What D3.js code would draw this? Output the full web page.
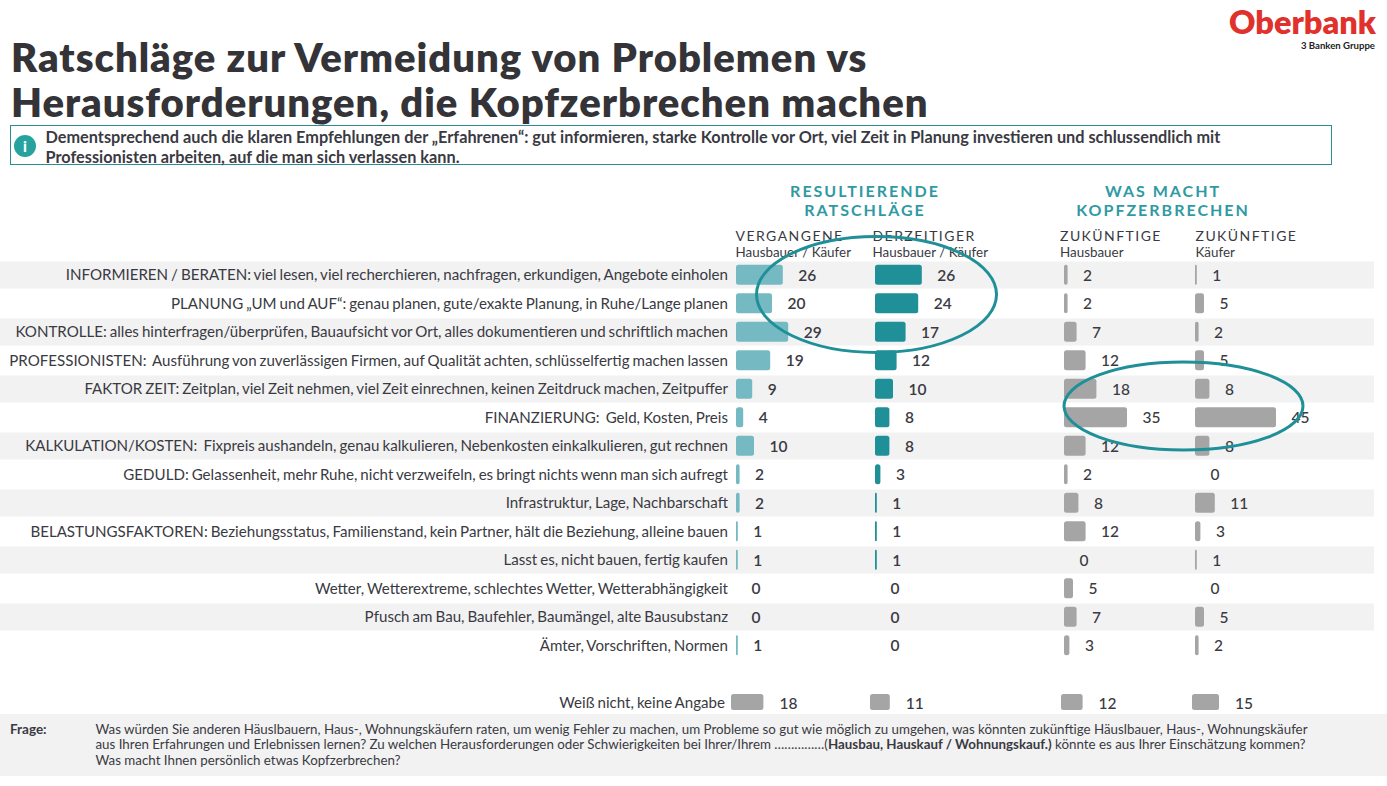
<!DOCTYPE html>
<html><head><meta charset="utf-8">
<script src="https://cdn.jsdelivr.net/npm/d3@7"></script>
<style>html,body{margin:0;padding:0;background:#fff}svg{display:block}text{font-family:Lato,sans-serif;fill:#3a3a42;white-space:pre}</style>
</head><body><svg id="c" width="1387" height="786"></svg>
<script>
const categories=[
"INFORMIEREN / BERATEN: viel lesen, viel recherchieren, nachfragen, erkundigen, Angebote einholen",
"PLANUNG „UM und AUF“: genau planen, gute/exakte Planung, in Ruhe/Lange planen",
"KONTROLLE: alles hinterfragen/überprüfen, Bauaufsicht vor Ort, alles dokumentieren und schriftlich machen",
"PROFESSIONISTEN:  Ausführung von zuverlässigen Firmen, auf Qualität achten, schlüsselfertig machen lassen",
"FAKTOR ZEIT: Zeitplan, viel Zeit nehmen, viel Zeit einrechnen, keinen Zeitdruck machen, Zeitpuffer",
"FINANZIERUNG:  Geld, Kosten, Preis",
"KALKULATION/KOSTEN:  Fixpreis aushandeln, genau kalkulieren, Nebenkosten einkalkulieren, gut rechnen",
"GEDULD: Gelassenheit, mehr Ruhe, nicht verzweifeln, es bringt nichts wenn man sich aufregt",
"Infrastruktur, Lage, Nachbarschaft",
"BELASTUNGSFAKTOREN: Beziehungsstatus, Familienstand, kein Partner, hält die Beziehung, alleine bauen",
"Lasst es, nicht bauen, fertig kaufen",
"Wetter, Wetterextreme, schlechtes Wetter, Wetterabhängigkeit",
"Pfusch am Bau, Baufehler, Baumängel, alte Bausubstanz",
"Ämter, Vorschriften, Normen"];
const vergangene=[26,20,29,19,9,4,10,2,2,1,1,0,0,1];
const derzeitiger=[26,24,17,12,10,8,8,3,1,1,1,0,0,0];
const zukHausbauer=[2,2,7,12,18,35,12,2,8,12,0,5,7,3];
const zukKaeufer=[1,5,2,5,8,45,8,0,11,3,1,0,5,2];
const unknownLabel="Weiß nicht, keine Angabe";
const unknownValues=[18,11,12,15];
const seriesHeads=[["VERGANGENE","Hausbauer / Käufer"],["DERZEITIGER","Hausbauer / Käufer"],["ZUKÜNFTIGE","Hausbauer"],["ZUKÜNFTIGE","Käufer"]];
const title=["Ratschläge zur Vermeidung von Problemen vs","Herausforderungen, die Kopfzerbrechen machen"];
const note=["Dementsprechend auch die klaren Empfehlungen der „Erfahrenen“: gut informieren, starke Kontrolle vor Ort, viel Zeit in Planung investieren und schlussendlich mit","Professionisten arbeiten, auf die man sich verlassen kann."];
const frage=["Was würden Sie anderen Häuslbauern, Haus-, Wohnungskäufern raten, um wenig Fehler zu machen, um Probleme so gut wie möglich zu umgehen, was könnten zukünftige Häuslbauer, Haus-, Wohnungskäufer",
"aus Ihren Erfahrungen und Erlebnissen lernen? Zu welchen Herausforderungen oder Schwierigkeiten bei Ihrer/Ihrem ……………(","Hausbau, Hauskauf / Wohnungskauf.)"," könnte es aus Ihrer Einschätzung kommen?","Was macht Ihnen persönlich etwas Kopfzerbrechen?"];

const svg=d3.select("#c");
const series=[vergangene,derzeitiger,zukHausbauer,zukKaeufer];
const colors=["#75b9c2","#1f9098","#a5a5a5","#a5a5a5"];
const colX=[736,875,1064,1195], unkX=[731,870,1061,1192];
const w=d3.scaleLinear().domain([0,45]).range([0,81]);
const y=d3.scaleBand().domain(d3.range(categories.length)).range([261,660]).paddingInner(0).paddingOuter(0);

// logo
svg.append("text").attr("x",1376).attr("y",33.5).attr("text-anchor","end").attr("font-size",32.5).attr("font-weight",800).style("fill","#e0312c").text("Oberbank");
svg.append("text").attr("x",1375).attr("y",48.5).attr("text-anchor","end").attr("font-size",9.6).attr("font-weight",700).style("fill","#222").text("3 Banken Gruppe");

// title
svg.selectAll(".t").data(title).join("text").attr("x",11).attr("y",(d,i)=>72+i*45).attr("font-size",40).attr("font-weight",800).attr("letter-spacing",0.99).style("fill","#333338").text(d=>d);

// note box
svg.append("rect").attr("x",10.5).attr("y",125.5).attr("width",1321).attr("height",39).attr("fill","#fff").attr("stroke","#2a8c96").attr("stroke-width",1);
svg.append("circle").attr("cx",25).attr("cy",146).attr("r",11).attr("fill","#27a39f");
svg.append("text").attr("x",25).attr("y",151.5).attr("text-anchor","middle").attr("font-size",15).attr("font-weight",900).style("fill","#fff").text("i");
svg.selectAll(".n").data(note).join("text").attr("x",45.5).attr("y",(d,i)=>143+i*20).attr("font-size",16.3).attr("font-weight",700).text(d=>d);

// group headings
const head=(x,l)=>svg.selectAll(null).data(l).join("text").attr("x",x).attr("y",(d,i)=>197+i*19).attr("text-anchor","middle").attr("font-size",16).attr("font-weight",700).attr("letter-spacing",2).style("fill","#2f9aa3").text(d=>d);
head(865,["RESULTIERENDE","RATSCHLÄGE"]);
head(1163,["WAS MACHT","KOPFZERBRECHEN"]);

// column headings
const headX=[735.5,872.5,1060,1195.5];
seriesHeads.forEach((h,i)=>{
 svg.append("text").attr("x",headX[i]).attr("y",241).attr("font-size",14).attr("letter-spacing",1.45).text(h[0]);
 svg.append("text").attr("x",headX[i]).attr("y",257).attr("font-size",13.4).text(h[1]);
});

// stripes
svg.selectAll(".s").data(d3.range(categories.length).filter(i=>i%2==0)).join("rect")
 .attr("x",0).attr("width",1374).attr("y",i=>y(i)+.5).attr("height",y.bandwidth()-1.5).attr("fill","#f2f2f2");

// category labels
svg.selectAll(".c").data(categories).join("text").attr("x",728).attr("y",(d,i)=>y(i)+y.bandwidth()/2+5)
 .attr("text-anchor","end").attr("font-size",15.1).attr("word-spacing",-0.85).text(d=>d);

// bars + values
series.forEach((vals,s)=>{
 const g=svg.append("g");
 g.selectAll("rect").data(vals).join("rect").attr("x",colX[s]).attr("y",(d,i)=>y(i)+y.bandwidth()/2-10.5).attr("height",20)
  .attr("width",d=>w(d)).attr("rx",d=>Math.min(2.5,w(d)/2)).attr("fill",colors[s]);
 g.selectAll("text").data(vals).join("text").attr("x",d=>colX[s]+w(d)+15.5).attr("y",(d,i)=>y(i)+y.bandwidth()/2+5.5)
  .attr("font-size",15.5).attr("font-weight",s<2?600:500).text(d=>d);
});

// unknown row
svg.append("text").attr("x",725).attr("y",708).attr("text-anchor","end").attr("font-size",15.1).attr("word-spacing",-0.85).text(unknownLabel);
unknownValues.forEach((v,i)=>{
 svg.append("rect").attr("x",unkX[i]).attr("y",694).attr("width",w(v)).attr("height",16).attr("rx",2.5).attr("fill","#a5a5a5");
 svg.append("text").attr("x",unkX[i]+w(v)+16).attr("y",709).attr("font-size",15.5).attr("font-weight",500).text(v);
});

// footer
svg.append("rect").attr("x",0).attr("y",714).attr("width",1387).attr("height",62).attr("fill","#f2f2f2");
svg.append("text").attr("x",10).attr("y",734).attr("font-size",13.5).attr("font-weight",700).text("Frage:");
svg.append("text").attr("x",95.5).attr("y",734).attr("font-size",13.33).text(frage[0]);
const t2=svg.append("text").attr("x",95.5).attr("y",749).attr("font-size",13.33);
t2.append("tspan").text(frage[1]);
t2.append("tspan").attr("font-weight",700).text(frage[2]);
t2.append("tspan").text(frage[3]);
svg.append("text").attr("x",95.5).attr("y",765).attr("font-size",13.33).text(frage[4]);

// annotation ellipses
svg.append("ellipse").attr("cx",876.5).attr("cy",294.5).attr("rx",120).attr("ry",58).attr("fill","none").attr("stroke","#1f9098").attr("stroke-width",3);
svg.append("ellipse").attr("cx",1183.5).attr("cy",406).attr("rx",119.5).attr("ry",44).attr("fill","none").attr("stroke","#1f9098").attr("stroke-width",3);
</script></body></html>
